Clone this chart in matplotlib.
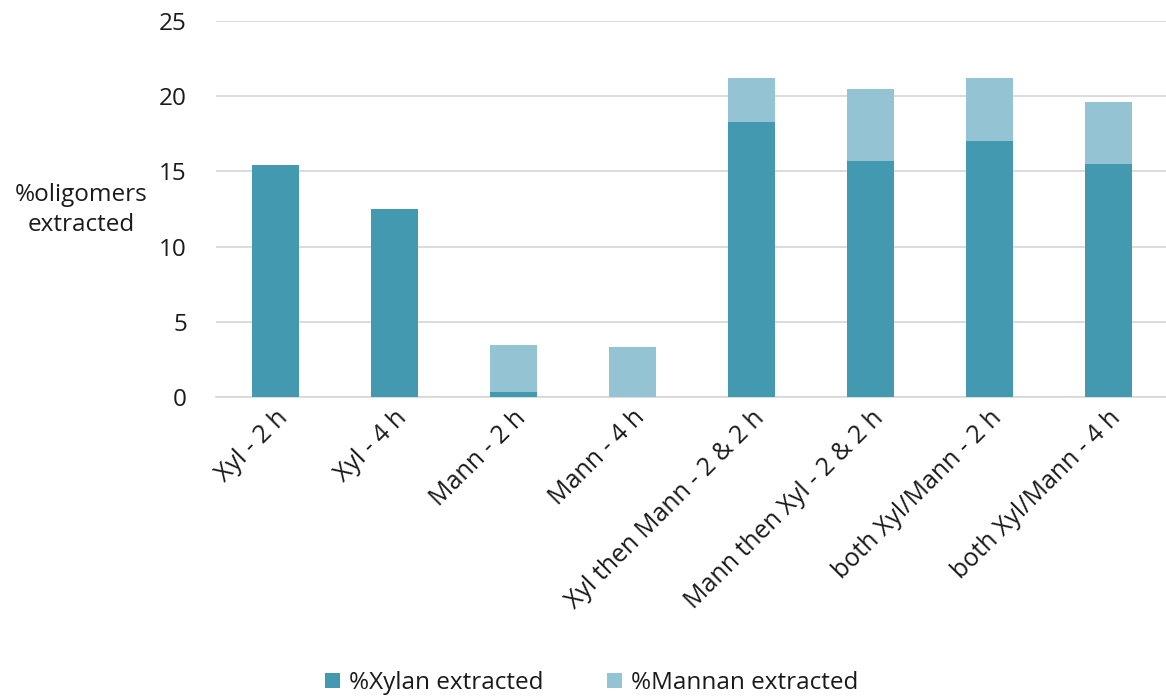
import matplotlib
matplotlib.use("Agg")
import matplotlib.pyplot as plt
import numpy as np

categories = ["Xyl - 2 h", "Xyl - 4 h", "Mann - 2 h", "Mann - 4 h",
              "Xyl then Mann - 2 & 2 h", "Mann then Xyl - 2 & 2 h",
              "both Xyl/Mann - 2 h", "both Xyl/Mann - 4 h"]
xylan = [15.4, 12.5, 0.3, 0.0, 18.3, 15.7, 17.0, 15.5]
mannan = [0.0, 0.0, 3.15, 3.3, 2.9, 4.8, 4.2, 4.1]
yticks = [0, 5, 10, 15, 20, 25]

plt.rcParams['font.family'] = ['Open Sans', 'DejaVu Sans']
fig = plt.figure(figsize=(11.66, 6.99), dpi=100)
ax = fig.add_axes([216/1166, 1-397/699, (1168-216)/1166, (397-21)/699])

x = np.arange(len(categories))
c1 = "#4299B0"
c2 = "#94C3D4"
ax.bar(x, xylan, width=0.4, color=c1, label="%Xylan extracted", zorder=3)
ax.bar(x, mannan, width=0.4, bottom=xylan, color=c2, label="%Mannan extracted", zorder=3)

ax.set_ylim(0, 25)
ax.set_xlim(-0.5, len(categories) - 0.5)
ax.set_yticks(yticks)
ax.yaxis.grid(True, color="#D9D9D9", linewidth=1.3, zorder=0)
for s in ["left", "right", "top"]:
    ax.spines[s].set_visible(False)
ax.spines["bottom"].set_color("#D9D9D9")
ax.spines["bottom"].set_linewidth(1.3)
ax.tick_params(axis="y", length=0, pad=21, labelsize=17.5, labelcolor="#1a1a1a")
ax.tick_params(axis="x", length=0, pad=6, labelsize=18, labelcolor="#1a1a1a")
ax.set_xticks(x)
ax.set_xticklabels(categories, rotation=45, ha="right", rotation_mode="anchor")

fig.text(81/1166, 1-210/699, "%oligomers\nextracted", ha="center", va="center",
         fontsize=17.5, color="#1a1a1a", linespacing=1.35)

fig.legend(loc="center", bbox_to_anchor=(592/1166, 1-683/699), ncol=2, frameon=False,
           fontsize=17.5, handlelength=0.6, handleheight=0.6, columnspacing=2.6,
           handletextpad=0.4, labelcolor="#1a1a1a")

fig.savefig("out.png", dpi=100)
